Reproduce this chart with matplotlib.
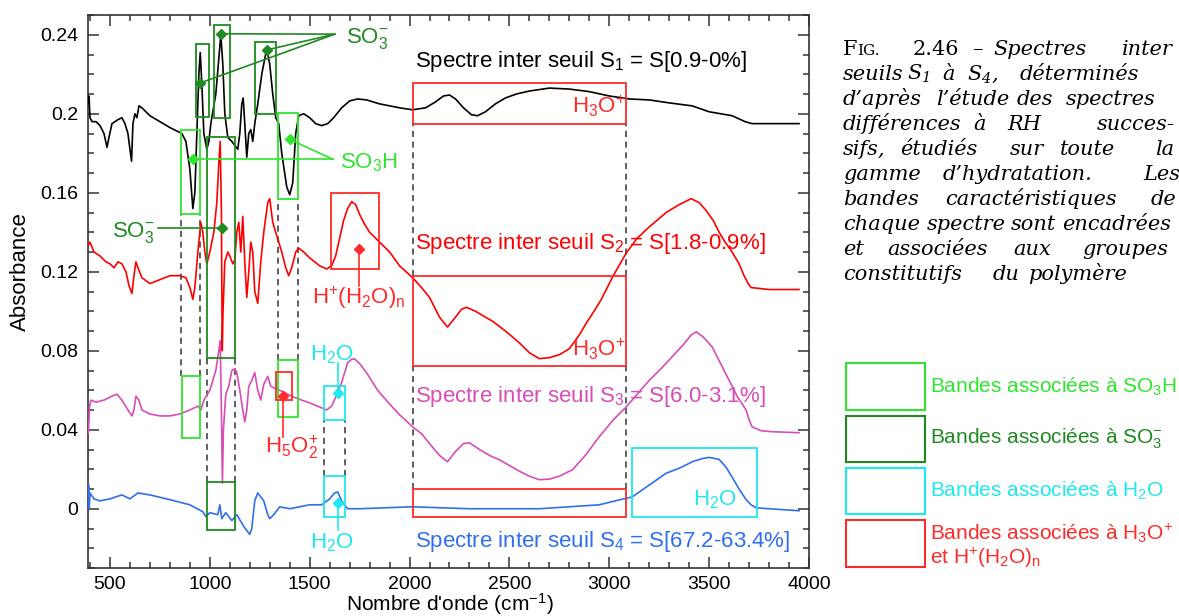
import matplotlib
matplotlib.use('Agg')
import matplotlib.pyplot as plt
from matplotlib.patches import Rectangle
from matplotlib.ticker import MultipleLocator

plt.rcParams['font.family'] = ['Liberation Sans', 'DejaVu Sans']
plt.rcParams['mathtext.default'] = 'regular'

# ---------------- data ----------------
s1_x = [390, 395, 400, 410, 430, 450, 470, 485, 495, 510, 540, 560, 575, 590, 600, 608, 615, 625, 635, 645,
        660, 700, 750, 800, 840, 860, 880, 900, 915, 925, 935, 945, 952, 960, 970, 985, 995, 1005, 1030, 1045,
        1055, 1065, 1075, 1090, 1110, 1125, 1140, 1150, 1160, 1167, 1175, 1185, 1195, 1205, 1215, 1225, 1240,
        1260, 1285, 1300, 1315, 1330, 1345, 1360, 1385, 1400, 1415, 1430, 1445, 1470, 1500, 1530, 1560, 1590,
        1620, 1660, 1700, 1740, 1785, 1850, 1950, 2015, 2080, 2130, 2170, 2200, 2230, 2270, 2310, 2340, 2380,
        2430, 2480, 2535, 2600, 2700, 2800, 2900, 3000, 3100, 3200, 3300, 3415, 3500, 3615, 3680, 3715, 3800,
        3950]
s1_y = [0.205, 0.209, 0.198, 0.196, 0.196, 0.194, 0.190, 0.183, 0.188, 0.195, 0.197, 0.198, 0.195, 0.190,
        0.182, 0.176, 0.195, 0.200, 0.198, 0.204, 0.203, 0.199, 0.196, 0.193, 0.191, 0.190, 0.186, 0.172,
        0.152, 0.160, 0.190, 0.220, 0.231, 0.215, 0.190, 0.182, 0.186, 0.195, 0.210, 0.228, 0.240, 0.225,
        0.200, 0.188, 0.186, 0.184, 0.182, 0.190, 0.205, 0.208, 0.195, 0.178, 0.190, 0.192, 0.186, 0.195,
        0.205, 0.220, 0.233, 0.225, 0.210, 0.198, 0.195, 0.180, 0.163, 0.159, 0.165, 0.190, 0.199, 0.200,
        0.198, 0.195, 0.194, 0.195, 0.198, 0.203, 0.2065, 0.2075, 0.207, 0.205, 0.203, 0.202, 0.203, 0.206,
        0.209, 0.2095, 0.2075, 0.203, 0.1995, 0.199, 0.201, 0.205, 0.208, 0.210, 0.2115, 0.213, 0.2125,
        0.2112, 0.209, 0.2075, 0.207, 0.2055, 0.204, 0.201, 0.199, 0.196, 0.195, 0.195, 0.195]

s2_x = [390, 400, 420, 450, 480, 500, 520, 540, 560, 580, 595, 610, 620, 630, 640, 660, 700, 750, 800, 850,
        880, 900, 915, 925, 940, 955, 965, 975, 985, 1000, 1020, 1035, 1045, 1052, 1058, 1062, 1066, 1075,
        1090, 1100, 1115, 1125, 1135, 1145, 1155, 1165, 1175, 1185, 1195, 1205, 1215, 1225, 1240, 1255, 1270,
        1290, 1300, 1315, 1330, 1345, 1360, 1380, 1395, 1410, 1430, 1445, 1470, 1500, 1550, 1585, 1610, 1630,
        1650, 1670, 1690, 1710, 1730, 1750, 1775, 1800, 1850, 1900, 1950, 2015, 2060, 2100, 2150, 2190, 2230,
        2260, 2285, 2330, 2380, 2415, 2480, 2550, 2600, 2650, 2700, 2750, 2800, 2850, 2885, 2930, 2960, 3020,
        3085, 3140, 3200, 3285, 3350, 3410, 3450, 3485, 3520, 3550, 3580, 3615, 3650, 3675, 3695, 3710, 3800,
        3950]
s2_y = [0.133, 0.135, 0.130, 0.128, 0.125, 0.124, 0.122, 0.125, 0.124, 0.120, 0.113, 0.109, 0.118, 0.125,
        0.122, 0.117, 0.114, 0.116, 0.118, 0.118, 0.117, 0.112, 0.106, 0.112, 0.130, 0.145, 0.140, 0.130,
        0.124, 0.130, 0.140, 0.155, 0.175, 0.186, 0.150, 0.080, 0.100, 0.125, 0.130, 0.128, 0.124, 0.126,
        0.140, 0.145, 0.130, 0.148, 0.125, 0.107, 0.120, 0.135, 0.130, 0.110, 0.104, 0.125, 0.140, 0.155,
        0.157, 0.145, 0.140, 0.135, 0.130, 0.122, 0.118, 0.122, 0.130, 0.132, 0.130, 0.127, 0.123, 0.1214,
        0.123, 0.128, 0.137, 0.146, 0.152, 0.1555, 0.154, 0.149, 0.144, 0.140, 0.135, 0.130, 0.123, 0.117,
        0.112, 0.107, 0.097, 0.092, 0.097, 0.101, 0.102, 0.100, 0.097, 0.095, 0.090, 0.084, 0.079, 0.076,
        0.0765, 0.078, 0.081, 0.088, 0.094, 0.101, 0.106, 0.118, 0.1295, 0.137, 0.1427, 0.150, 0.154, 0.157,
        0.155, 0.151, 0.146, 0.140, 0.135, 0.130, 0.124, 0.118, 0.114, 0.112, 0.111, 0.111]

s3_x = [392, 398, 405, 430, 470, 510, 535, 560, 590, 610, 620, 630, 645, 660, 700, 750, 800, 850, 900, 940,
        955, 970, 1000, 1030, 1045, 1052, 1058, 1063, 1068, 1080, 1095, 1110, 1125, 1135, 1150, 1165, 1175,
        1185, 1195, 1210, 1225, 1240, 1255, 1270, 1290, 1305, 1325, 1365, 1415, 1460, 1500, 1585, 1610, 1640,
        1660, 1690, 1710, 1725, 1750, 1785, 1840, 1900, 1950, 2015, 2060, 2100, 2150, 2190, 2230, 2270, 2300,
        2350, 2400, 2450, 2550, 2600, 2650, 2700, 2750, 2815, 2880, 2950, 3020, 3085, 3140, 3200, 3260, 3315,
        3370, 3410, 3435, 3470, 3515, 3560, 3600, 3640, 3685, 3700, 3715, 3760, 3815, 3950]
s3_y = [0.038, 0.052, 0.055, 0.054, 0.055, 0.057, 0.058, 0.055, 0.050, 0.047, 0.050, 0.057, 0.055, 0.050,
        0.048, 0.047, 0.047, 0.048, 0.050, 0.052, 0.050, 0.055, 0.060, 0.070, 0.080, 0.085, 0.050, 0.013,
        0.040, 0.058, 0.062, 0.070, 0.071, 0.069, 0.060, 0.050, 0.044, 0.050, 0.062, 0.065, 0.069, 0.060,
        0.055, 0.063, 0.067, 0.062, 0.061, 0.0593, 0.0567, 0.055, 0.0536, 0.050, 0.052, 0.0587, 0.064,
        0.0739, 0.0757, 0.0759, 0.0735, 0.0688, 0.060, 0.053, 0.0476, 0.0415, 0.038, 0.033, 0.027, 0.0238,
        0.029, 0.033, 0.0334, 0.030, 0.027, 0.0248, 0.019, 0.0165, 0.0147, 0.015, 0.0165, 0.0197, 0.027,
        0.0365, 0.045, 0.0516, 0.058, 0.065, 0.071, 0.077, 0.083, 0.088, 0.0896, 0.087, 0.082, 0.073, 0.065,
        0.057, 0.050, 0.045, 0.0415, 0.0395, 0.039, 0.0385]

s4_x = [390, 393, 396, 400, 420, 450, 500, 560, 600, 640, 700, 800, 900, 965, 980, 1000, 1040, 1050, 1060,
        1080, 1110, 1135, 1170, 1200, 1210, 1225, 1240, 1255, 1270, 1290, 1300, 1320, 1350, 1400, 1500, 1560,
        1600, 1625, 1640, 1660, 1690, 1750, 2015, 2300, 2650, 2950, 3030, 3115, 3200, 3285, 3350, 3420, 3470,
        3500, 3550, 3585, 3615, 3650, 3685, 3710, 3735, 3800, 3950]
s4_y = [0.005, 0.012, 0.000, 0.008, 0.005, 0.004, 0.005, 0.007, 0.005, 0.008, 0.007, 0.0046, 0.002, -0.0015,
        -0.004, -0.002, -0.003, 0.002, -0.005, -0.002, -0.006, -0.003, -0.009, -0.013, -0.010, 0.004, 0.008,
        0.006, 0.004, -0.003, -0.005, -0.003, 0.001, 0.000, 0.002, 0.002, 0.005, 0.008, 0.0085, 0.004, 0.000,
        0.000, 0.001, 0.000, 0.000, 0.002, 0.004, 0.006, 0.012, 0.018, 0.0205, 0.024, 0.0255, 0.026, 0.025,
        0.021, 0.016, 0.010, 0.0046, 0.002, 0.0005, 0.000, -0.001]

x_ticks = [500, 1000, 1500, 2000, 2500, 3000, 3500, 4000]
x_tick_labels = ['500', '1000', '1500', '2000', '2500', '3000', '3500', '4000']
y_ticks = [0, 0.04, 0.08, 0.12, 0.16, 0.2, 0.24]
y_tick_labels = ['0', '0.04', '0.08', '0.12', '0.16', '0.2', '0.24']

series_labels = ['Spectre inter seuil S$_1$ = S[0.9-0%]',
                 'Spectre inter seuil S$_2$ = S[1.8-0.9%]',
                 'Spectre inter seuil S$_3$ = S[6.0-3.1%]',
                 'Spectre inter seuil S$_4$ = S[67.2-63.4%]']

# band boxes: (x0, x1, y0, y1, group)
band_boxes = [
    (855, 950, 0.149, 0.192, 'SO3H'), (1343, 1443, 0.157, 0.2004, 'SO3H'),
    (860, 950, 0.036, 0.067, 'SO3H'), (1340, 1440, 0.0465, 0.0754, 'SO3H'),
    (930, 995, 0.1985, 0.2353, 'SO3-'), (1020, 1100, 0.1977, 0.245, 'SO3-'),
    (1225, 1330, 0.1998, 0.2363, 'SO3-'), (985, 1125, 0.0764, 0.188, 'SO3-'),
    (985, 1125, -0.011, 0.0134, 'SO3-'),
    (2015, 3085, 0.1948, 0.2155, 'H3O+'), (2015, 3085, 0.0724, 0.118, 'H3O+'),
    (2015, 3085, -0.004, 0.0101, 'H3O+'), (1605, 1845, 0.1214, 0.160, 'H3O+'),
    (1330, 1410, 0.0551, 0.0693, 'H3O+'),
    (1570, 1675, 0.045, 0.0622, 'H2O'), (1570, 1675, -0.004, 0.0167, 'H2O'),
    (3115, 3740, -0.004, 0.0309, 'H2O'),
]
# dashed connectors between boxes: (x, y0, y1)
connectors = [(855, 0.067, 0.149), (950, 0.067, 0.149), (1343, 0.0754, 0.157), (1443, 0.0754, 0.157),
              (985, 0.0134, 0.0764), (1125, 0.0134, 0.0764), (1570, 0.0167, 0.045), (1675, 0.0167, 0.045),
              (2015, 0.118, 0.1948), (3085, 0.118, 0.1948), (2015, 0.0101, 0.0724), (3085, 0.0101, 0.0724)]

# ---------------- styles ----------------
C_S = ['black', '#ff0000', '#d84db8', '#2f6ff0']
C_G = {'SO3H': '#2ee62e', 'SO3-': '#1f8a1f', 'H2O': '#1ee8f0', 'H3O+': '#ff2a2a'}

W, H = 1179, 616
fig = plt.figure(figsize=(W / 100, H / 100), dpi=100)
ax = fig.add_axes([88 / W, 1 - 568 / H, (809 - 88) / W, (568 - 15) / H])

for xs, ys, c in zip([s1_x, s2_x, s3_x, s4_x], [s1_y, s2_y, s3_y, s4_y], C_S):
    ax.plot(xs, ys, color=c, lw=1.2, zorder=3)

for x0, x1, y0, y1, g in band_boxes:
    ax.add_patch(Rectangle((x0, y0), x1 - x0, y1 - y0, fill=False, ec=C_G[g], lw=1.3, zorder=4))
for x, y0, y1 in connectors:
    ax.plot([x, x], [y0, y1], color='#333333', lw=1.1, ls=(0, (4, 3)), zorder=2)


def leader(pts, target, color):
    for (px, py) in pts:
        ax.plot([px, target[0]], [py, target[1]], color=color, lw=1.2, zorder=5)
        ax.plot(px, py, marker='D', ms=5, color=color, zorder=6)


leader([(950, 0.2155), (1055, 0.2405), (1285, 0.2323)], (1625, 0.2403), C_G['SO3-'])
leader([(915, 0.177), (1400, 0.187)], (1615, 0.177), C_G['SO3H'])
leader([(1060, 0.142)], (740, 0.142), C_G['SO3-'])
leader([(1745, 0.1316)], (1745, 0.113), C_G['H3O+'])
leader([(1365, 0.0572)], (1365, 0.0364), C_G['H3O+'])
leader([(1640, 0.0587)], (1640, 0.0739), C_G['H2O'])
leader([(1640, 0.003)], (1640, -0.0106), C_G['H2O'])

fs = 16
ax.text(1680, 0.238, 'SO$_3^{-}$', color=C_G['SO3-'], fontsize=fs, va='center', ha='left')
ax.text(1650, 0.175, 'SO$_3$H', color=C_G['SO3H'], fontsize=fs, va='center', ha='left')
ax.text(512, 0.140, 'SO$_3^{-}$', color=C_G['SO3-'], fontsize=fs, va='center', ha='left')
ax.text(1745, 0.107, 'H$^{+}$(H$_2$O)$_n$', color=C_G['H3O+'], fontsize=fs, va='center', ha='center')
ax.text(1410, 0.031, 'H$_5$O$_2^{+}$', color=C_G['H3O+'], fontsize=fs, va='center', ha='center')
ax.text(1610, 0.078, 'H$_2$O', color=C_G['H2O'], fontsize=fs, va='center', ha='center')
ax.text(1610, -0.017, 'H$_2$O', color=C_G['H2O'], fontsize=fs, va='center', ha='center')
ax.text(3078, 0.2035, 'H$_3$O$^{+}$', color=C_G['H3O+'], fontsize=fs, va='center', ha='right')
ax.text(3078, 0.0805, 'H$_3$O$^{+}$', color=C_G['H3O+'], fontsize=fs, va='center', ha='right')
ax.text(3640, 0.0045, 'H$_2$O', color=C_G['H2O'], fontsize=fs, va='center', ha='right')

for lab, y, c in zip(series_labels, [0.2265, 0.1345, 0.0567, -0.0167], C_S):
    ax.text(2025, y, lab, color=c, fontsize=fs, va='center', ha='left', zorder=7)

ax.set_xlim(390, 4000)
ax.set_ylim(-0.030, 0.250)
ax.set_xticks(x_ticks)
ax.set_xticklabels(x_tick_labels)
ax.set_yticks(y_ticks)
ax.set_yticklabels(y_tick_labels)
ax.xaxis.set_minor_locator(MultipleLocator(100))
ax.yaxis.set_minor_locator(MultipleLocator(0.01))
ax.tick_params(which='both', direction='in', top=True, right=True, color='#333333', width=1.1)
ax.tick_params(which='major', length=8, labelsize=14, pad=7)
ax.tick_params(axis='x', which='major', pad=6)
ax.tick_params(which='minor', length=4.5)
for sp in ax.spines.values():
    sp.set_color('#333333')
    sp.set_linewidth(1.2)

ax.set_xlabel("Nombre d'onde (cm$^{-1}$)", fontsize=15)
ax.xaxis.label.set_verticalalignment('baseline')
ax.set_ylabel('Absorbance', fontsize=16)
ax.xaxis.set_label_coords((450 - 88) / 721, (568 - 611) / 553)
ax.yaxis.set_label_coords((31 - 88) / 721, (568 - 272) / 553)

# ---------------- caption ----------------
serif = ['DejaVu Serif']
cf = 15
caption = [
    [(843, 'F', 'normal', 15), (857, 'IG.', 'normal', 11), (913, '2.46', 'normal', cf), (972, '–', 'normal', cf),
     (993, 'Spectres', 'italic', cf), (1122, 'inter', 'italic', cf)],
    [(843, 'seuils', 'italic', cf), (907, 'S$_1$', 'italic', cf), (942, 'à', 'italic', cf),
     (967, 'S$_4$,', 'italic', cf), (1020, 'déterminés', 'italic', cf)],
    [(843, 'd’après', 'italic', cf), (936, 'l’étude', 'italic', cf), (1017, 'des', 'italic', cf),
     (1066, 'spectres', 'italic', cf)],
    [(843, 'différences', 'italic', cf), (973, 'à', 'italic', cf), (1007, 'RH', 'italic', cf),
     (1097, 'succes-', 'italic', cf)],
    [(843, 'sifs,', 'italic', cf), (900, 'étudiés', 'italic', cf), (1010, 'sur', 'italic', cf),
     (1060, 'toute', 'italic', cf), (1155, 'la', 'italic', cf)],
    [(843, 'gamme', 'italic', cf), (943, 'd’hydratation.', 'italic', cf), (1143, 'Les', 'italic', cf)],
    [(843, 'bandes', 'italic', cf), (945, 'caractéristiques', 'italic', cf), (1151, 'de', 'italic', cf)],
    [(843, 'chaque', 'italic', cf), (927, 'spectre', 'italic', cf), (1011, 'sont', 'italic', cf),
     (1062, 'encadrées', 'italic', cf)],
    [(843, 'et', 'italic', cf), (887, 'associées', 'italic', cf), (1013, 'aux', 'italic', cf),
     (1082, 'groupes', 'italic', cf)],
    [(843, 'constitutifs', 'italic', cf), (993, 'du', 'italic', cf), (1028, 'polymère', 'italic', cf)],
]
for i, line in enumerate(caption):
    base = 55 + 25 * i
    for x, t, st, s in line:
        fig.text(x / W, 1 - base / H, t, family=serif, style=st, fontsize=s, va='baseline', ha='left',
                 color='black')

# ---------------- legend ----------------
legend_items = [('SO3H', 363, 410, ['Bandes associées à SO$_3$H']),
                ('SO3-', 416, 462, ['Bandes associées à SO$_3^{-}$']),
                ('H2O', 468, 514, ['Bandes associées à H$_2$O']),
                ('H3O+', 520, 567, ['Bandes associées à H$_3$O$^{+}$', 'et H$^{+}$(H$_2$O)$_n$'])]
for g, top, bot, texts in legend_items:
    fig.add_artist(Rectangle((846 / W, 1 - bot / H), (925 - 846) / W, (bot - top) / H, fill=False,
                             ec=C_G[g], lw=1.5, transform=fig.transFigure))
    if len(texts) == 1:
        fig.text(930 / W, 1 - (top + bot) / 2 / H, texts[0], color=C_G[g], fontsize=15, va='center', ha='left')
    else:
        fig.text(930 / W, 1 - 533 / H, texts[0], color=C_G[g], fontsize=15, va='center', ha='left')
        fig.text(930 / W, 1 - 558 / H, texts[1], color=C_G[g], fontsize=15, va='center', ha='left')

fig.savefig('out.png', dpi=100)
